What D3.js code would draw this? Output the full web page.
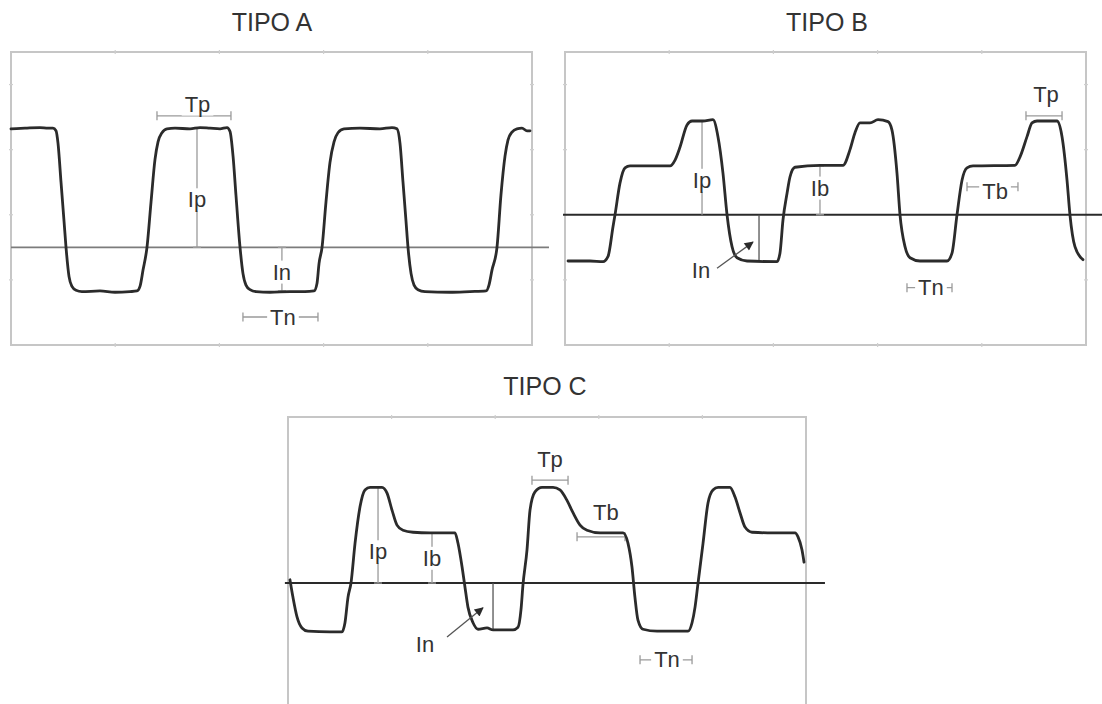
<!DOCTYPE html>
<html>
<head>
<meta charset="utf-8">
<script src="https://cdn.jsdelivr.net/npm/d3@7"></script>
<style>
  body { margin: 0; background: #fff; }
  svg { display: block; }
  text { font-family: "Liberation Sans", Arial, Helvetica, sans-serif; }
</style>
</head>
<body>
<svg id="chart" width="1102" height="704"></svg>
<script>
// ---- Waveform data: time (ms) and current (relative units) ----
const timeDomain = [0, 50];
const timeTicks = [10, 20, 30, 40];

const timeA = [0,1.34,2.78,3.55,4.03,4.32,4.51,4.80,5.09,5.28,5.57,5.85,6.24,6.81,8.54,9.98,11.42,12.09,12.38,12.67,13.05,13.44,13.82,14.11,14.49,14.97,15.74,17.18,18.14,19.10,20.06,20.73,21.02,21.31,21.59,21.98,22.26,22.55,22.94,23.51,24.86,26.78,28.21,29.08,29.37,29.56,29.85,30.23,30.61,31.00,31.38,31.96,33.49,35.41,36.56,37.04,37.33,37.62,37.91,38.10,38.39,38.68,39.06,39.73,42.13,44.05,45.59,45.87,46.16,46.64,47.02,47.41,47.70,48.08,48.56,49.04,49.52,49.81];
const currentA = [1.82,1.83,1.84,1.83,1.83,1.79,1.6,1.0,0.4,0.0,-0.45,-0.6,-0.66,-0.68,-0.67,-0.69,-0.68,-0.67,-0.6,-0.35,0.0,0.7,1.35,1.62,1.76,1.82,1.83,1.82,1.84,1.83,1.82,1.84,1.78,1.4,0.8,0.0,-0.4,-0.58,-0.65,-0.68,-0.69,-0.68,-0.68,-0.67,-0.55,-0.25,0.0,0.7,1.3,1.62,1.76,1.82,1.83,1.82,1.84,1.82,1.6,1.0,0.4,0.0,-0.4,-0.58,-0.65,-0.68,-0.69,-0.68,-0.67,-0.58,-0.35,0.0,0.8,1.4,1.65,1.77,1.82,1.83,1.79,1.79];

const timeB = [0.29,2.40,3.65,4.13,4.61,4.80,5.28,5.76,6.24,8.16,10.08,10.56,11.04,11.71,12.19,13.24,14.20,14.68,15.16,15.55,16.03,16.51,17.47,20.35,20.63,20.92,21.31,21.59,22.07,24.47,26.68,27.35,27.83,28.31,29.27,30.04,31.00,31.38,31.86,32.15,32.63,33.11,34.07,36.66,37.14,37.62,38.10,38.58,39.16,43.19,43.67,44.34,44.82,45.30,47.22,47.70,48.18,48.46,48.94,49.71];
const currentB = [-0.71,-0.71,-0.72,-0.64,-0.18,0.00,0.49,0.72,0.75,0.75,0.75,0.84,1.04,1.38,1.44,1.44,1.46,1.20,0.64,0.00,-0.49,-0.66,-0.71,-0.72,-0.59,-0.08,0.33,0.58,0.73,0.76,0.76,1.00,1.26,1.41,1.41,1.46,1.43,1.30,0.64,0.00,-0.49,-0.66,-0.71,-0.71,-0.59,0.00,0.53,0.72,0.75,0.76,0.89,1.20,1.41,1.44,1.44,1.20,0.53,0.00,-0.49,-0.69];

const timeC = [0.19,0.48,0.87,1.35,1.93,4.05,5.21,5.50,5.79,6.08,6.47,6.95,7.43,7.92,9.07,9.56,10.04,10.52,11.10,12.07,13.71,15.35,16.12,16.41,16.80,17.08,17.37,17.86,18.34,19.21,19.79,21.72,22.20,22.49,22.68,23.07,23.36,23.84,24.52,25.58,26.25,26.93,27.51,28.19,28.86,30.12,32.34,32.82,33.20,33.49,33.78,34.27,35.62,38.61,39.00,39.29,39.58,40.06,40.54,41.02,41.51,42.66,43.15,43.63,44.11,44.79,46.81,48.94,49.23,49.61,49.81];
const currentC = [0.05,-0.22,-0.52,-0.69,-0.74,-0.75,-0.75,-0.61,-0.22,0.00,0.61,1.17,1.43,1.47,1.47,1.38,1.12,0.89,0.81,0.78,0.77,0.77,0.77,0.61,0.25,-0.06,-0.37,-0.61,-0.71,-0.69,-0.72,-0.72,-0.68,-0.41,-0.03,0.51,1.12,1.40,1.47,1.47,1.43,1.27,1.08,0.89,0.81,0.77,0.77,0.61,0.25,-0.22,-0.57,-0.71,-0.74,-0.74,-0.61,-0.37,0.00,0.61,1.23,1.43,1.47,1.47,1.32,1.08,0.86,0.78,0.77,0.77,0.71,0.51,0.32];

// Frame tick values on the current axis
const currentTicksA = [-0.5, 0.5, 1.5, 2.5];
const currentTicksB = [-1, 0, 1, 2];
const currentTicksC = [];

// ---- Annotations (data units) ----
// Time spans: Tp, Tn, Tb
const spansA = [
  { label: "Tp", t0: 14.01, t1: 21.11, v: 2.02, labelT: 17.9, labelV: 2.2 },
  { label: "Tn", t0: 22.26, t1: 29.46, v: -1.07, labelT: 26.1, labelV: -1.07 }
];
const spansB = [
  { label: "Tb", t0: 38.58, t1: 43.47, v: 0.43, labelT: 41.27, labelV: 0.35 },
  { label: "Tp", t0: 44.24, t1: 47.70, v: 1.52, labelT: 46.16, labelV: 1.85 },
  { label: "Tn", t0: 32.82, t1: 37.14, v: -1.12, labelT: 35.12, labelV: -1.12 }
];
const spansC = [
  { label: "Tp", t0: 23.55, t1: 27.03, v: 1.58, labelT: 25.29, labelV: 1.9 },
  { label: "Tb", t0: 27.90, t1: 32.53, v: 0.71, labelT: 30.69, labelV: 1.09 },
  { label: "Tn", t0: 33.98, t1: 39.00, v: -1.18, labelT: 36.58, labelV: -1.18 }
];

// Current amplitudes: Ip, Ib, In
const amplitudesA = [
  { label: "Ip", t: 17.85, v0: 0, v1: 1.83, labelV: 0.73, caps: [0] },
  { label: "In", t: 26.0, v0: 0, v1: -0.67, labelV: -0.38, caps: [0, -0.67] }
];
const amplitudesB = [
  { label: "Ip", t: 13.15, v0: 0, v1: 1.44, labelV: 0.53, caps: [] },
  { label: "Ib", t: 24.47, v0: 0, v1: 0.75, labelV: 0.41, caps: [0, 0.75] },
  { label: null, t: 18.62, v0: 0, v1: -0.72, caps: [] }
];
const amplitudesC = [
  { label: "Ip", t: 8.69, v0: 0, v1: 1.47, labelV: 0.48, caps: [0] },
  { label: "Ib", t: 13.90, v0: 0, v1: 0.77, labelV: 0.38, caps: [0] },
  { label: null, t: 19.79, v0: 0, v1: -0.72, caps: [] }
];

// Pointer labels
const pointersB = [
  { label: "In", t0: 14.59, v0: -0.82, t1: 18.04, v1: -0.42, labelT: 13.05, labelV: -0.85 }
];
const pointersC = [
  { label: "In", t0: 15.35, v0: -0.83, t1: 18.82, v1: -0.38, labelT: 13.22, labelV: -0.95 }
];

// ---- Panel layout ----
const panels = [
  { title: "TIPO A", titleX: 272, titleY: 22,
    left: 11, right: 532, top: 52, bottom: 345, yDomain: [-1.5, 3.0],
    t: timeA, i: currentA, zeroSpan: [0, 51.63], zeroColor: "#7c7c7c", zeroWidth: 1.6,
    yTicks: currentTicksA, spans: spansA, amps: amplitudesA, pointers: [] },
  { title: "TIPO B", titleX: 827, titleY: 22,
    left: 565, right: 1086, top: 52, bottom: 345, yDomain: [-2.0, 2.5],
    t: timeB, i: currentB, zeroSpan: [-0.19, 51.54], zeroColor: "#2a2a2a", zeroWidth: 2,
    yTicks: currentTicksB, spans: spansB, amps: amplitudesB, pointers: pointersB },
  { title: "TIPO C", titleX: 545, titleY: 386,
    left: 288, right: 806, top: 417, bottom: 710, yDomain: [-1.95, 2.55],
    t: timeC, i: currentC, zeroSpan: [-0.3, 51.83], zeroColor: "#2a2a2a", zeroWidth: 2,
    yTicks: currentTicksC, spans: spansC, amps: amplitudesC, pointers: pointersC }
];

const svg = d3.select("#chart");
const defs = svg.append("defs");
defs.append("marker")
  .attr("id", "arrowhead")
  .attr("viewBox", "0 0 10 10")
  .attr("refX", 9).attr("refY", 5)
  .attr("markerWidth", 11).attr("markerHeight", 9)
  .attr("markerUnits", "userSpaceOnUse")
  .attr("orient", "auto")
  .append("path")
  .attr("d", "M0,0 L10,5 L0,10 Z")
  .attr("fill", "#2a2a2a");

const ANNOT = "#9a9a9a";
const INK = "#2b2b2b";

function label(g, x, y, str) {
  const grp = g.append("g");
  const txt = grp.append("text")
    .attr("x", x).attr("y", y)
    .attr("text-anchor", "middle")
    .attr("dominant-baseline", "central")
    .attr("font-size", 22)
    .attr("fill", "#333")
    .text(str);
  const bb = txt.node().getBBox();
  grp.insert("rect", "text")
    .attr("x", bb.x - 3).attr("y", bb.y + 1)
    .attr("width", bb.width + 6).attr("height", bb.height - 2)
    .attr("fill", "#fff");
}

panels.forEach(p => {
  const x = d3.scaleLinear().domain(timeDomain).range([p.left, p.right]);
  const y = d3.scaleLinear().domain(p.yDomain).range([p.bottom, p.top]);
  const g = svg.append("g");

  // title
  g.append("text")
    .attr("x", p.titleX).attr("y", p.titleY)
    .attr("text-anchor", "middle").attr("dominant-baseline", "central")
    .attr("font-size", 25).attr("fill", "#333")
    .text(p.title);

  // frame
  g.append("rect")
    .attr("x", x(timeDomain[0])).attr("y", y(p.yDomain[1]))
    .attr("width", x(timeDomain[1]) - x(timeDomain[0]))
    .attr("height", y(p.yDomain[0]) - y(p.yDomain[1]))
    .attr("fill", "none").attr("stroke", "#c6c6c6").attr("stroke-width", 2);

  // frame ticks
  const tickG = g.append("g").attr("stroke", "#cfcfcf").attr("stroke-width", 1.2);
  timeTicks.forEach(t => {
    [p.yDomain[1], p.yDomain[0]].forEach(v => {
      tickG.append("line").attr("x1", x(t)).attr("x2", x(t))
        .attr("y1", y(v) - 2).attr("y2", y(v) + 2);
    });
  });
  p.yTicks.forEach(v => {
    timeDomain.forEach(t => {
      tickG.append("line").attr("x1", x(t) - 2).attr("x2", x(t) + 2)
        .attr("y1", y(v)).attr("y2", y(v));
    });
  });

  // zero line
  g.append("line")
    .attr("x1", x(p.zeroSpan[0])).attr("x2", x(p.zeroSpan[1]))
    .attr("y1", y(0)).attr("y2", y(0))
    .attr("stroke", p.zeroColor).attr("stroke-width", p.zeroWidth);

  // amplitude markers
  p.amps.forEach(a => {
    g.append("line")
      .attr("x1", x(a.t)).attr("x2", x(a.t))
      .attr("y1", y(a.v0)).attr("y2", y(a.v1))
      .attr("stroke", a.label ? ANNOT : "#555").attr("stroke-width", 1.3);
    a.caps.forEach(v => {
      g.append("line")
        .attr("x1", x(a.t) - 4).attr("x2", x(a.t) + 4)
        .attr("y1", y(v)).attr("y2", y(v))
        .attr("stroke", ANNOT).attr("stroke-width", 1.3);
    });
  });

  // time spans
  p.spans.forEach(s => {
    g.append("line")
      .attr("x1", x(s.t0)).attr("x2", x(s.t1))
      .attr("y1", y(s.v)).attr("y2", y(s.v))
      .attr("stroke", ANNOT).attr("stroke-width", 1.3);
    [s.t0, s.t1].forEach(t => {
      g.append("line")
        .attr("x1", x(t)).attr("x2", x(t))
        .attr("y1", y(s.v) - 4.5).attr("y2", y(s.v) + 4.5)
        .attr("stroke", ANNOT).attr("stroke-width", 1.3);
    });
  });

  // labels
  p.amps.filter(a => a.label).forEach(a => label(g, x(a.t), y(a.labelV), a.label));
  p.spans.forEach(s => label(g, x(s.labelT), y(s.labelV), s.label));
  p.pointers.forEach(q => label(g, x(q.labelT), y(q.labelV), q.label));

  // waveform
  const line = d3.line()
    .x((d, k) => x(p.t[k]))
    .y(d => y(d))
    .curve(d3.curveMonotoneX);
  g.append("path")
    .attr("d", line(p.i))
    .attr("fill", "none")
    .attr("stroke", INK)
    .attr("stroke-width", 2.8)
    .attr("stroke-linejoin", "round")
    .attr("stroke-linecap", "round");

  // pointer arrows
  p.pointers.forEach(q => {
    g.append("line")
      .attr("x1", x(q.t0)).attr("y1", y(q.v0))
      .attr("x2", x(q.t1)).attr("y2", y(q.v1))
      .attr("stroke", "#555").attr("stroke-width", 1.3)
      .attr("marker-end", "url(#arrowhead)");
  });
});
</script>
</body>
</html>
